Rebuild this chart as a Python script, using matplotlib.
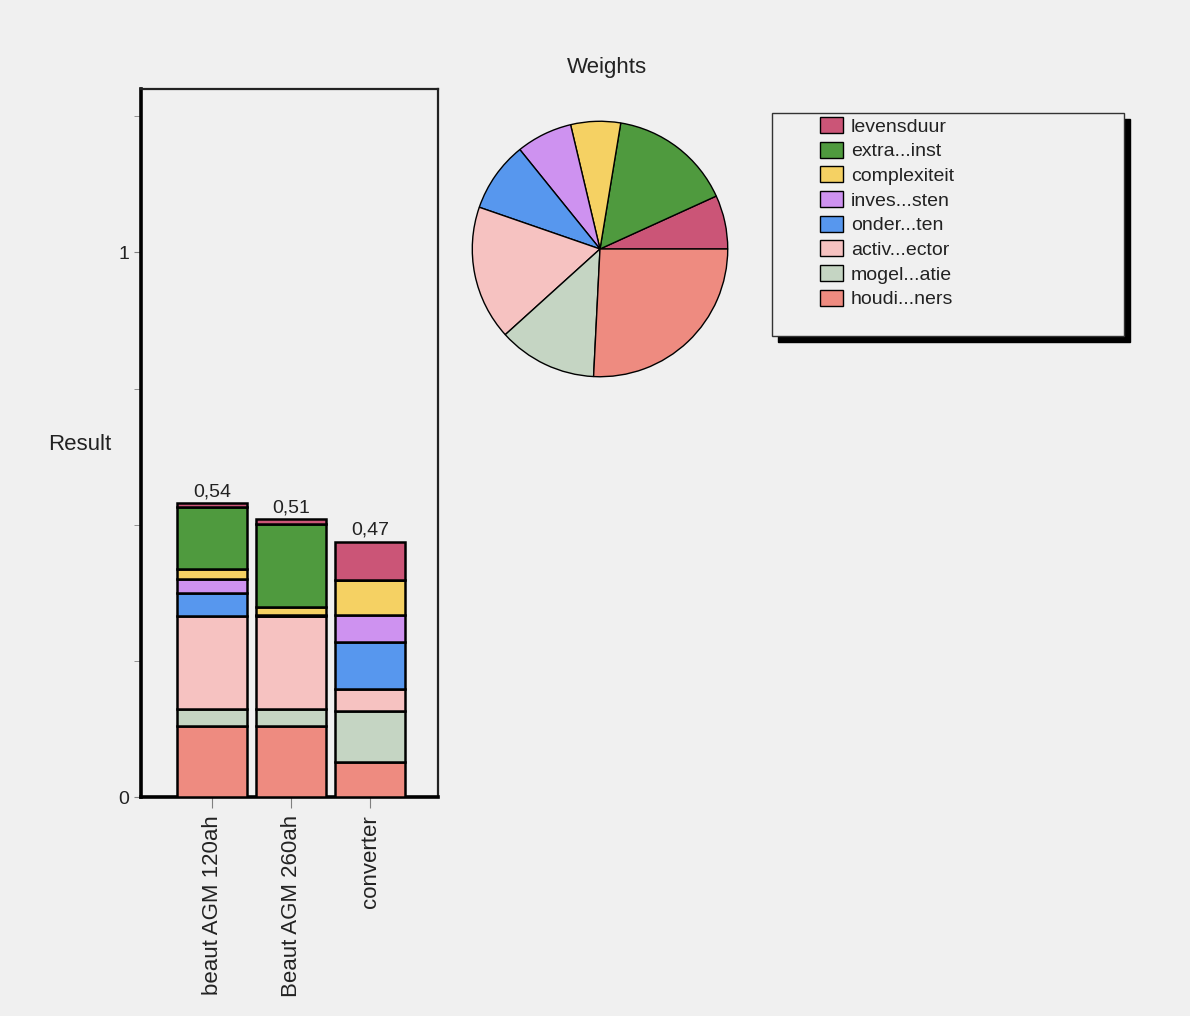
import numpy as np
import matplotlib
matplotlib.use("Agg")
import matplotlib.pyplot as plt
from matplotlib.patches import Rectangle

plt.rcParams['font.family'] = ['Liberation Sans', 'DejaVu Sans']

criteria = ["levensduur", "extra...inst", "complexiteit", "inves...sten",
            "onder...ten", "activ...ector", "mogel...atie", "houdi...ners"]
colors = ["#CB5577", "#4F9A3E", "#F5D163", "#CE92F0",
          "#5797EE", "#F6C2C1", "#C5D5C3", "#EE8B80"]
weights = [0.068, 0.156, 0.063, 0.071, 0.089, 0.170, 0.125, 0.258]

alternatives = ["beaut AGM 120ah", "Beaut AGM 260ah", "converter"]
# weighted score per criterion, one value per alternative
scores = {
    "levensduur":    [0.007, 0.008, 0.070],
    "extra...inst":  [0.114, 0.153, 0.000],
    "complexiteit":  [0.017, 0.014, 0.064],
    "inves...sten":  [0.026, 0.002, 0.051],
    "onder...ten":   [0.042, 0.000, 0.085],
    "activ...ector": [0.172, 0.172, 0.042],
    "mogel...atie":  [0.031, 0.031, 0.093],
    "houdi...ners":  [0.130, 0.130, 0.064],
}

bg = "#F0F0F0"
W, H = 1190, 1016
fig = plt.figure(figsize=(W / 100, H / 100), dpi=100, facecolor=bg)


def px(x0, y0, x1, y1):
    return [x0 / W, 1 - y1 / H, (x1 - x0) / W, (y1 - y0) / H]


# ---- stacked bars ----
ax = fig.add_axes(px(141, 89, 438, 797), facecolor=bg)
x = np.arange(len(alternatives))
bottom = np.zeros(len(alternatives))
cont = None
for name, col in reversed(list(zip(criteria, colors))):
    vals = np.array(scores[name])
    cont = ax.bar(x, vals, bottom=bottom, width=0.89, color=col,
                  edgecolor="black", linewidth=1.8, zorder=3)
    bottom += vals
ax.bar_label(cont, labels=[f"{t:.2f}".replace(".", ",") for t in bottom],
             padding=2, fontsize=14, color="#222222")

ax.set_xlim(-0.9, 2.86)
ax.set_ylim(0, 1.3)
ax.set_yticks([0, 1])
ax.set_yticklabels(["0", "1"])
ax.set_yticks([0.25, 0.5, 0.75, 1.25], minor=True)
ax.set_xticks(x)
ax.set_xticklabels(alternatives, rotation=90, fontsize=16, color="#222222")
ax.tick_params(axis="y", which="both", direction="out", length=5,
               color="#808080", labelsize=14, labelcolor="#222222")
ax.tick_params(axis="x", direction="out", length=8, color="#808080", pad=5)
for side in ["left", "bottom"]:
    ax.spines[side].set_linewidth(2.6)
for side in ["top", "right"]:
    ax.spines[side].set_linewidth(1.6)
    ax.spines[side].set_color("#222222")
fig.text(80 / W, 1 - 444 / H, "Result", ha="center", va="center",
         fontsize=16, color="#222222")

# ---- pie ----
axp = fig.add_axes(px(471, 120, 729, 378), facecolor=bg)
wedges, _ = axp.pie(weights, colors=colors, startangle=0, counterclock=True,
                    radius=1, labels=criteria, labeldistance=None,
                    wedgeprops=dict(edgecolor="black", linewidth=1))
axp.set_xlim(-1.01, 1.01)
axp.set_ylim(-1.01, 1.01)
axp.axis("off")
fig.text(607 / W, 1 - 67 / H, "Weights", ha="center", va="center",
         fontsize=16, color="#222222")

# ---- legend box with shadow ----
fig.patches.append(Rectangle((778 / W, 1 - 342 / H), 352 / W, 223 / H,
                             transform=fig.transFigure, facecolor="black",
                             edgecolor="black", zorder=1))
fig.patches.append(Rectangle((772 / W, 1 - 336 / H), 352 / W, 223 / H,
                             transform=fig.transFigure, facecolor=bg,
                             edgecolor="#333333", linewidth=1, zorder=2))
leg = fig.legend(wedges, criteria, loc="upper left",
                 bbox_to_anchor=(820 / W, 1 - 117 / H), frameon=False,
                 fontsize=14, handlelength=1.2, handleheight=0.88,
                 handletextpad=0.4, labelspacing=0.31, borderpad=0,
                 borderaxespad=0)
for t in leg.get_texts():
    t.set_color("#222222")

fig.savefig("out.png", dpi=100, facecolor=bg)
